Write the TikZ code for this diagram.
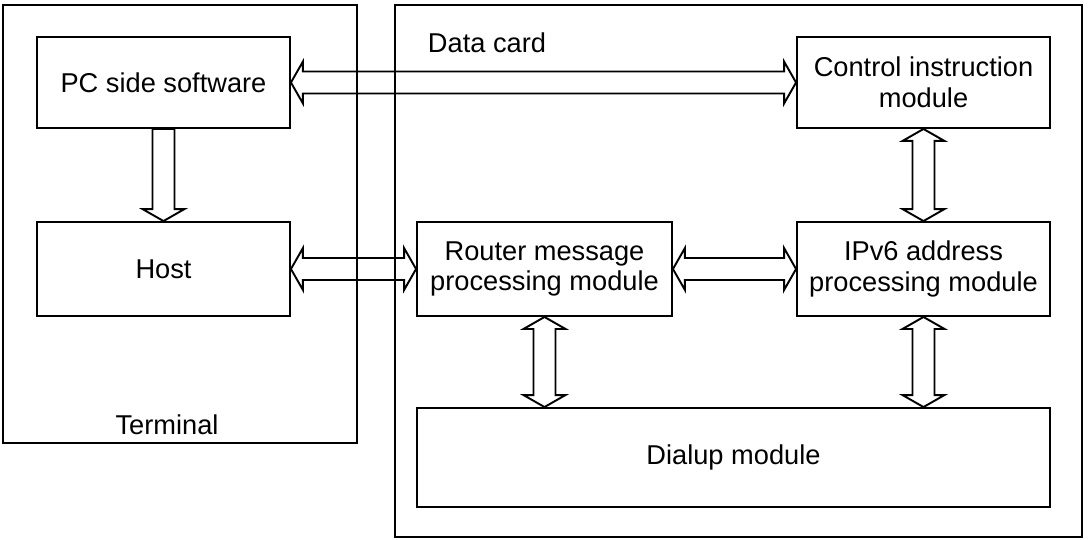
\documentclass[tikz,border=0pt]{standalone}
\usepackage{fontspec}
\setmainfont{Liberation Sans}
\usetikzlibrary{positioning,calc}

\newcommand{\arrhl}{0.24cm}
\newcommand{\arrhw}{0.42cm}
\newcommand{\arrsw}{0.22cm}

% horizontal double block arrow from #1.east to #2.west
\newcommand{\hdarrow}[2]{%
  \draw[blockarrow] let \p1=(#1.east), \p2=(#2.west) in
    (\x1,\y1) -- (\x1+\arrhl,\y1+\arrhw) -- (\x1+\arrhl,\y1+\arrsw) -- (\x2-\arrhl,\y1+\arrsw)
    -- (\x2-\arrhl,\y1+\arrhw) -- (\x2,\y1) -- (\x2-\arrhl,\y1-\arrhw) -- (\x2-\arrhl,\y1-\arrsw)
    -- (\x1+\arrhl,\y1-\arrsw) -- (\x1+\arrhl,\y1-\arrhw) -- cycle;}

% vertical double block arrow from #1.south to #2.north
\newcommand{\vdarrow}[2]{%
  \draw[blockarrow] let \p1=(#1.south), \p2=(#2.north) in
    (\x1,\y1) -- (\x1+\arrhw,\y1-\arrhl) -- (\x1+\arrsw,\y1-\arrhl) -- (\x1+\arrsw,\y2+\arrhl)
    -- (\x1+\arrhw,\y2+\arrhl) -- (\x1,\y2) -- (\x1-\arrhw,\y2+\arrhl) -- (\x1-\arrsw,\y2+\arrhl)
    -- (\x1-\arrsw,\y1-\arrhl) -- (\x1-\arrhw,\y1-\arrhl) -- cycle;}

\begin{document}
\begin{tikzpicture}[x=0.02cm, y=-0.02cm,
    every node/.style={font=\fontsize{15.5}{17.5}\selectfont},
    box/.style={draw, line width=1.1pt, align=center, inner sep=0pt},
    frame/.style={draw, line width=1.1pt},
    blockarrow/.style={draw, line width=1.1pt, line join=miter}]
  \useasboundingbox (0,0) rectangle (1089,539);

  % outer frames
  \draw[frame] (3,5) rectangle (357,443);
  \draw[frame] (395,5) rectangle (1082,537);
  \node (terminal) at (167,425) {Terminal};
  \node (datacard) at (487,43) {Data card};

  % blocks
  \node[box, minimum width=5.06cm, minimum height=1.82cm] (pc) at (163.5,82.5) {PC side software};
  \node[box, minimum width=5.06cm, minimum height=1.88cm] (host) at (163.5,269) {Host};
  \node[box, minimum width=5.06cm, minimum height=1.82cm] (ctrl) at (923.5,82.5) {Control instruction\\module};
  \node[box, minimum width=5.06cm, minimum height=1.88cm] (ipv6) at (923.5,269) {IPv6 address\\processing module};
  \node[box, minimum width=5.1cm, minimum height=1.88cm] (router) at (544.5,269) {Router message\\processing module};
  \node[box, minimum width=12.66cm, minimum height=1.98cm] (dialup) at (733.5,457.5) {Dialup module};

  % block arrows
  \hdarrow{pc}{ctrl}
  \hdarrow{host}{router}
  \hdarrow{router}{ipv6}
  \vdarrow{ctrl}{ipv6}
  \vdarrow{router}{dialup}
  \vdarrow{ipv6}{dialup}

  % single arrow PC -> Host
  \draw[blockarrow] let \p1=(pc.south), \p2=(host.north) in
    (\x1-\arrsw,\y1) -- (\x1+\arrsw,\y1) -- (\x1+\arrsw,\y2+\arrhl) -- (\x1+\arrhw,\y2+\arrhl)
    -- (\x1,\y2) -- (\x1-\arrhw,\y2+\arrhl) -- (\x1-\arrsw,\y2+\arrhl) -- cycle;
\end{tikzpicture}
\end{document}
